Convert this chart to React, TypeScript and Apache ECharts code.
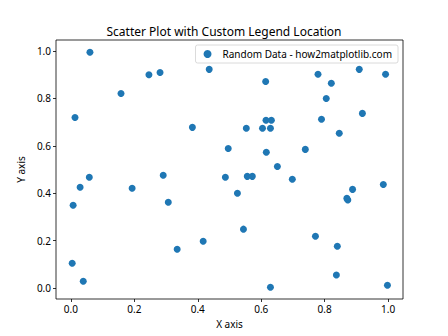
import React, { useEffect, useRef } from "react";
import * as echarts from "echarts";

const xValues = [
  0.06, 0.013, 0.158, 0.246, 0.281, 0.383, 0.436, 0.496,
  0.779, 0.909, 0.992, 0.614, 0.821, 0.805, 0.919, 0.615, 0.632, 0.79, 0.553, 0.604, 0.629, 0.846, 0.616, 0.739, 0.651,
  0.058, 0.029, 0.007, 0.193, 0.291, 0.307, 0.335, 0.417, 0.487, 0.004, 0.039,
  0.556, 0.572, 0.698, 0.525, 0.888, 0.87, 0.873, 0.985, 0.544, 0.771, 0.84, 0.837, 0.629, 0.998,
];
const yValues = [
  0.995, 0.72, 0.821, 0.9, 0.91, 0.678, 0.923, 0.589,
  0.902, 0.923, 0.902, 0.872, 0.864, 0.8, 0.737, 0.708, 0.708, 0.712, 0.674, 0.674, 0.674, 0.653, 0.573, 0.585, 0.513,
  0.467, 0.425, 0.349, 0.421, 0.476, 0.362, 0.163, 0.197, 0.467, 0.104, 0.028,
  0.471, 0.471, 0.459, 0.4, 0.416, 0.378, 0.371, 0.437, 0.248, 0.218, 0.176, 0.054, 0.003, 0.011,
];
const tickValues = [0, 0.2, 0.4, 0.6, 0.8, 1.0];
const seriesName = "Random Data - how2matplotlib.com";
const titleText = "Scatter Plot with Custom Legend Location";

const FONT = "Noto Sans";

export default function App() {
  const ref = useRef<HTMLDivElement>(null);
  useEffect(() => {
    const chart = echarts.init(ref.current!, null, { renderer: "svg" });
    const axisCommon = {
      type: "value" as const,
      min: -0.047,
      max: 1.047,
      nameLocation: "middle" as const,
      nameTextStyle: { fontFamily: FONT, fontSize: 10, color: "#000" },
      axisLine: { show: false, onZero: false },
      axisTick: { show: true, customValues: tickValues, length: 3, lineStyle: { color: "#000", width: 0.8 } },
      axisLabel: {
        customValues: tickValues,
        formatter: (v: number) => v.toFixed(1),
        fontFamily: FONT,
        fontSize: 10,
        color: "#000",
        margin: 5,
      },
      splitLine: { show: false },
    };
    chart.setOption({
      animation: false,
      title: {
        text: titleText,
        left: "center",
        top: 20,
        textStyle: { fontFamily: FONT, fontSize: 12, fontWeight: "normal", color: "#000" },
      },
      grid: { left: 56, right: 45, top: 40, bottom: 37, show: true, borderColor: "#000", borderWidth: 0.8 },
      xAxis: { ...axisCommon, name: "X axis", nameGap: 20 },
      yAxis: { ...axisCommon, name: "Y axis", nameGap: 30 },
      legend: {
        right: 50,
        top: 45,
        itemWidth: 8,
        itemHeight: 8,
        itemGap: 0,
        padding: [4, 6, 4, 8],
        borderColor: "#d0d0d0",
        borderWidth: 0.8,
        borderRadius: 2,
        backgroundColor: "rgba(255,255,255,0.8)",
        textStyle: { fontFamily: FONT, fontSize: 10, color: "#000", padding: [0, 0, 0, 6] },
        data: [{ name: seriesName, icon: "circle" }],
      },
      series: [
        {
          name: seriesName,
          type: "scatter",
          symbolSize: 7,
          itemStyle: { color: "#1f77b4", opacity: 1 },
          data: xValues.map((x, i) => [x, yValues[i]]),
        },
      ],
    });
    return () => chart.dispose();
  }, []);
  return <div ref={ref} style={{ width: 448, height: 336, margin: -8 }} />;
}
